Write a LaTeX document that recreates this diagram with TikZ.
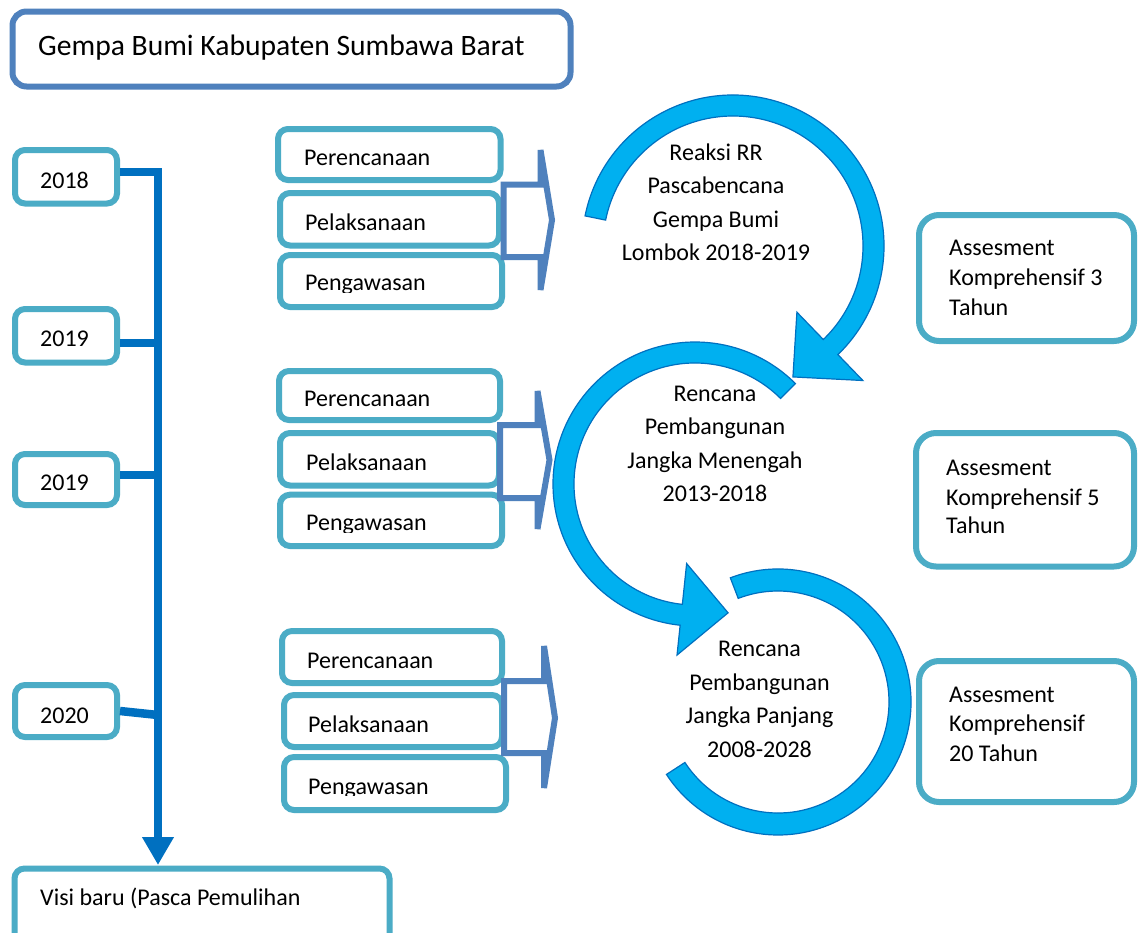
\documentclass[tikz,border=0pt]{standalone}
\usepackage{fontspec}
\setmainfont{Carlito}
\usetikzlibrary{arrows.meta}
\definecolor{boxc}{RGB}{75,172,198}
\definecolor{titc}{RGB}{79,129,189}
\definecolor{linec}{RGB}{0,112,192}
\definecolor{ringf}{RGB}{0,176,240}
\definecolor{ringd}{RGB}{0,112,192}
\begin{document}
\begin{tikzpicture}[x=1pt,y=-1pt,
  cbox/.style={draw=boxc, line width=6pt, rounded corners=10pt, inner sep=0pt},
  abox/.style={cbox, rounded corners=20pt},
  tbox/.style={draw=titc, line width=6pt, rounded corners=14pt, inner sep=0pt},
  lbl/.style={inner sep=0pt, anchor=base west, font=\fontsize{24}{24}\selectfont},
  clbl/.style={lbl, anchor=base},
  tline/.style={draw=linec, line width=8.5pt},
  blk/.style={draw=titc, line width=6pt},
  ring/.style={fill=ringf, draw=ringd, line width=1.2pt}
]
\fill[white] (0,0) rectangle (1138,932);
\useasboundingbox (0,0) rectangle (1138,932);
\clip (0,0) rectangle (1138,932);

% title
\node[tbox, minimum width=558pt, minimum height=75pt] (title) at (291.5,49) {};
\node[lbl, font=\fontsize{29.6}{29.6}\selectfont] (titletext) at (38,55.5) {Gempa Bumi Kabupaten Sumbawa Barat};

% year boxes
\node[cbox, minimum width=102pt, minimum height=53.5pt] (y2018) at (66,176.75) {};
\node[lbl] (t2018) at (40,188) {2018};
\node[cbox, minimum width=102pt, minimum height=53.5pt] (y2019a) at (66,335.75) {};
\node[lbl] (t2019a) at (40,346) {2019};
\node[cbox, minimum width=102pt, minimum height=51pt] (y2019b) at (66,479.5) {};
\node[lbl] (t2019b) at (40,490) {2019};
\node[cbox, minimum width=102pt, minimum height=52pt] (y2020) at (66,711) {};
\node[lbl] (t2020) at (40,723) {2020};

% vision box
\node[cbox, minimum width=375pt, minimum height=80pt] (visi) at (202,908.5) {};
\node[lbl] (tvisi) at (40,905) {Visi baru (Pasca Pemulihan};

% timeline
\coordinate (jtop) at (158,172);
\coordinate (j2019a) at (158,343);
\coordinate (j2019b) at (158,475);
\coordinate (j2020) at (158,715);
\coordinate (jend) at (158,865);
\draw[tline, -{Triangle[length=28pt,width=30pt]}] (y2018.east |- jtop) -- (jtop) -- (jend);
\draw[tline] (y2019a.east |- j2019a) -- (j2019a);
\draw[tline] (y2019b.east |- j2019b) -- (j2019b);
\draw[tline] (y2020.east) -- (j2020);

% group 1
\node[cbox, minimum width=222.5pt, minimum height=51pt] (p1) at (389.25,154.5) {};
\node[cbox, minimum width=219pt, minimum height=52.5pt] (l1) at (389.5,219.25) {};
\node[cbox, minimum width=222pt, minimum height=52pt] (g1) at (391,281) {};
\node[lbl] (tp1) at (304,165) {Perencanaan};
\node[lbl] (tl1) at (305,230) {Pelaksanaan};
\begin{scope}
\clip (285,260) rectangle (495,292.2);
\node[lbl] (tg1) at (305,290.7) {Pengawasan};
\end{scope}

% group 2
\node[cbox, minimum width=221pt, minimum height=49pt] (p2) at (389.5,395.5) {};
\node[cbox, minimum width=219pt, minimum height=52.5pt] (l2) at (389.5,459.25) {};
\node[cbox, minimum width=222pt, minimum height=51.3pt] (g2) at (391,520.35) {};
\node[lbl] (tp2) at (304,406) {Perencanaan};
\node[lbl] (tl2) at (306,470) {Pelaksanaan};
\begin{scope}
\clip (285,500) rectangle (495,532.2);
\node[lbl] (tg2) at (306,530.7) {Pengawasan};
\end{scope}

% group 3
\node[cbox, minimum width=220pt, minimum height=52pt] (p3) at (392,657) {};
\node[cbox, minimum width=218pt, minimum height=52pt] (l3) at (393,721) {};
\node[cbox, minimum width=222pt, minimum height=53pt] (g3) at (395,783.5) {};
\node[lbl] (tp3) at (307,668) {Perencanaan};
\node[lbl] (tl3) at (308,732.7) {Pelaksanaan};
\begin{scope}
\clip (290,765) rectangle (500,795.5);
\node[lbl] (tg3) at (308,794) {Pengawasan};
\end{scope}

% block arrows
\draw[blk] (503.5,184.5) -- (540.5,184.5) -- (540.5,150) -- (552,220) -- (540.5,290) -- (540.5,257) -- (503.5,257) -- cycle;
\draw[blk] (500,425) -- (537.5,425) -- (537.5,391) -- (549.5,460) -- (537.5,529) -- (537.5,498) -- (500,498) -- cycle;
\draw[blk] (504,681) -- (544,681) -- (544,646) -- (555,718) -- (544,788) -- (544,753) -- (504,753) -- cycle;

% circular arrows
\begin{scope}[shift={(733,246)}]
\path[ring] (-168.5:151) arc[start angle=-168.5, end angle=46, radius=151] -- (46:187) -- (65.4:144) -- (46:92) -- (46:130) arc[start angle=46, end angle=-168.5, radius=130] -- cycle;
\end{scope}
\begin{scope}[shift={(695,484)}]
\path[ring] (-45:142) arc[start angle=-45, end angle=-264, radius=142] -- (-264:172) -- (-284.4:133) -- (-264:80) -- (-264:121) arc[start angle=-264, end angle=-45, radius=121] -- cycle;
\end{scope}
\begin{scope}[shift={(778,702)}]
\path[ring] (-111:133) arc[start angle=-111, end angle=147, radius=133] -- (147:111) arc[start angle=147, end angle=-111, radius=111] -- cycle;
\end{scope}

% circle texts
\node[clbl] (c1a) at (716,160) {Reaksi RR};
\node[clbl] (c1b) at (716,193.5) {Pascabencana};
\node[clbl] (c1c) at (716,227) {Gempa Bumi};
\node[clbl] (c1d) at (716,260.5) {Lombok 2018-2019};
\node[clbl] (c2a) at (715,401) {Rencana};
\node[clbl] (c2b) at (715,434.5) {Pembangunan};
\node[clbl] (c2c) at (715,468) {Jangka Menengah};
\node[clbl] (c2d) at (715,501.5) {2013-2018};
\node[clbl] (c3a) at (759.5,656.5) {Rencana};
\node[clbl] (c3b) at (759.5,690) {Pembangunan};
\node[clbl] (c3c) at (759.5,723.5) {Jangka Panjang};
\node[clbl] (c3d) at (759.5,757) {2008-2028};

% assessment boxes
\node[abox, minimum width=215pt, minimum height=126pt] (a1) at (1026.5,278) {};
\node[lbl] (a1a) at (949,255) {Assesment};
\node[lbl] (a1b) at (949,285) {Komprehensif 3};
\node[lbl] (a1c) at (949,315) {Tahun};
\node[abox, minimum width=218pt, minimum height=133.5pt] (a2) at (1025,499.75) {};
\node[lbl] (a2a) at (946,475) {Assesment};
\node[lbl] (a2b) at (946,505) {Komprehensif 5};
\node[lbl] (a2c) at (946,533) {Tahun};
\node[abox, minimum width=215pt, minimum height=141pt] (a3) at (1026.5,731.5) {};
\node[lbl] (a3a) at (949,702.5) {Assesment};
\node[lbl] (a3b) at (949,731.5) {Komprehensif};
\node[lbl] (a3c) at (949,761.5) {20 Tahun};
\end{tikzpicture}
\end{document}
